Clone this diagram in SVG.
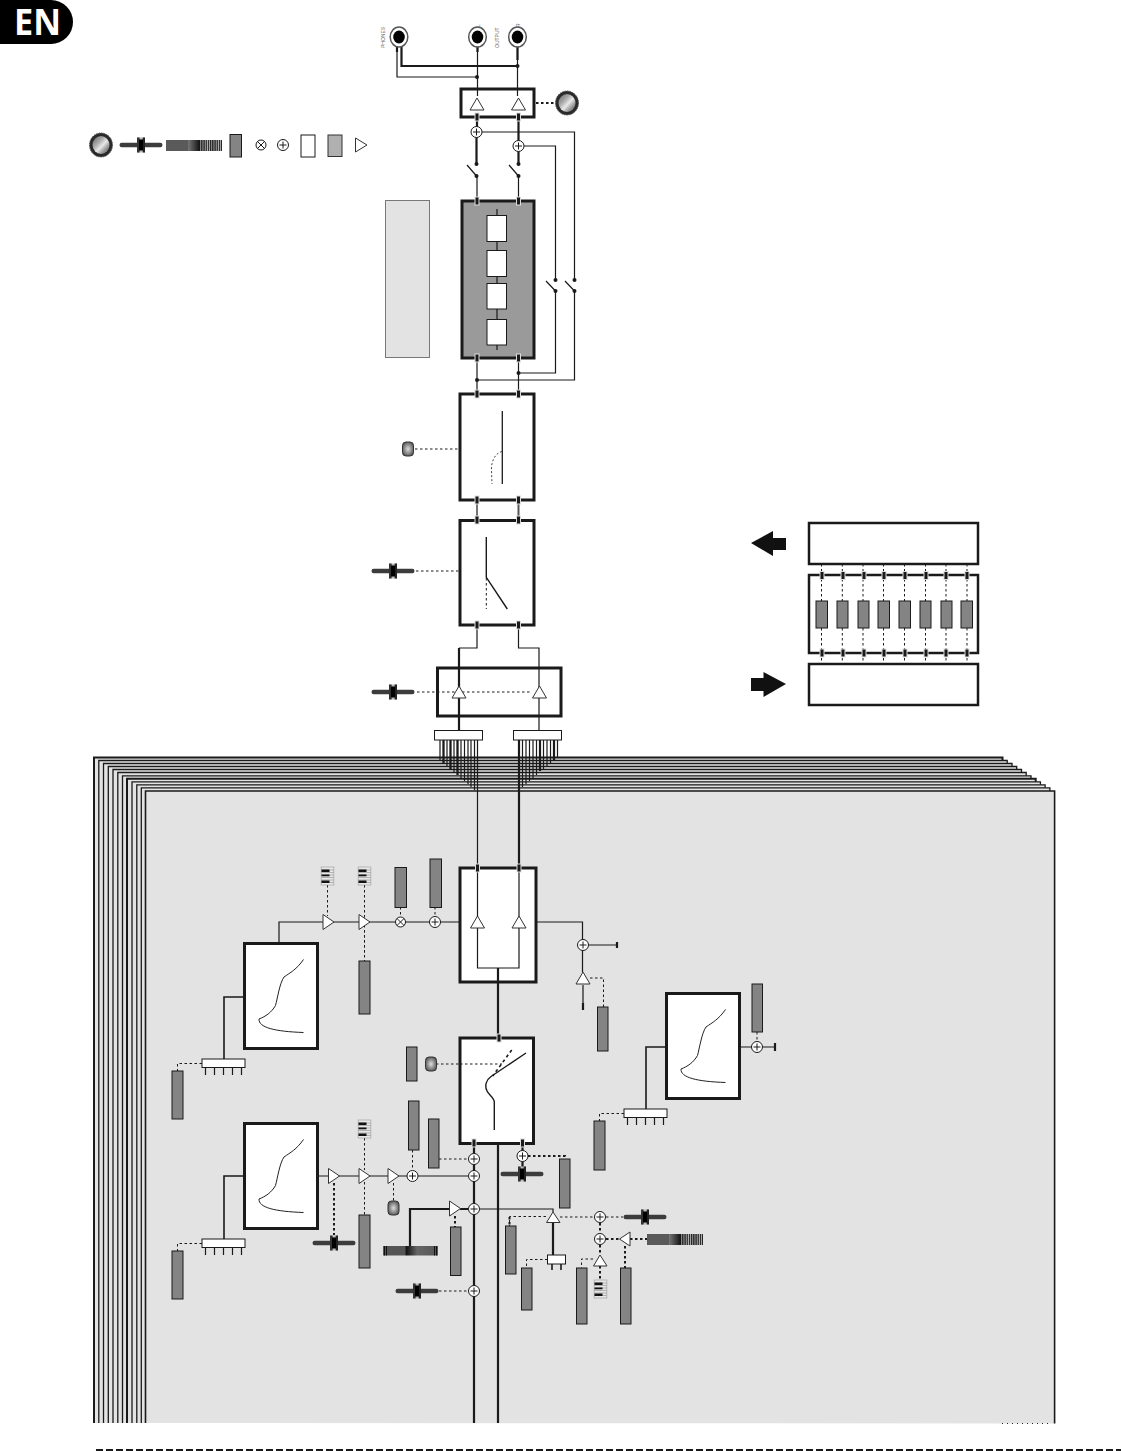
<svg xmlns="http://www.w3.org/2000/svg" width="1121" height="1451" viewBox="0 0 1121 1451">
<style>
.bx{fill:#fff;stroke:#1a1a1a;stroke-width:3}
.bt{fill:#fff;stroke:#1a1a1a;stroke-width:2.5}
.g{fill:#848484;stroke:#1a1a1a;stroke-width:1}
.w{fill:none;stroke:#1a1a1a;stroke-width:1.2}
.t{fill:none;stroke:#1a1a1a;stroke-width:2.2}
.d{fill:none;stroke:#1a1a1a;stroke-width:1;stroke-dasharray:2.5 2.5}
.dd{fill:none;stroke:#1a1a1a;stroke-width:2;stroke-dasharray:2.5 2.5}
.tri{fill:#fff;stroke:#333;stroke-width:1}
.p{fill:#e3e3e3;stroke:#1a1a1a;stroke-width:1.3}
.lb{font-family:"Liberation Sans",Arial,sans-serif;font-size:5px;fill:#666}
.dot{fill:#1a1a1a}
</style>
<defs>
<linearGradient id="kg" x1="0" y1="0" x2="1" y2="1"><stop offset="0" stop-color="#666"/><stop offset="0.35" stop-color="#aaa"/><stop offset="0.55" stop-color="#e8e8e8"/><stop offset="0.75" stop-color="#999"/><stop offset="1" stop-color="#555"/></linearGradient>
<radialGradient id="lg" cx="0.5" cy="0.5" r="0.55"><stop offset="0" stop-color="#ddd"/><stop offset="1" stop-color="#555"/></radialGradient>
<linearGradient id="sg" x1="0" x2="1" y1="0" y2="0"><stop offset="0" stop-color="#555"/><stop offset="0.4" stop-color="#555"/><stop offset="0.42" stop-color="#111"/><stop offset="0.62" stop-color="#666"/><stop offset="1" stop-color="#555"/></linearGradient>
<linearGradient id="sh" x1="0" x2="1" y1="0" y2="0"><stop offset="0" stop-color="#777"/><stop offset="1" stop-color="#111"/></linearGradient>
<pattern id="hatch" width="2.2" height="10" patternUnits="userSpaceOnUse"><rect width="2.2" height="10" fill="#bbb"/><rect width="1.3" height="10" fill="#222"/></pattern>
<g id="sum"><circle r="5.5" fill="#fff" stroke="#1a1a1a" stroke-width="1"/><path d="M-3.5 0H3.5M0-3.5V3.5" stroke="#1a1a1a" stroke-width="1" fill="none"/></g>
<g id="mul"><circle r="5" fill="#fff" stroke="#1a1a1a" stroke-width="1"/><path d="M-3.500-3.500L3.500 3.500M3.500-3.500L-3.500 3.500" stroke="#1a1a1a" stroke-width="1" fill="none"/></g>
<g id="fader"><rect x="-21.500" y="-2.200" width="43" height="4.400" rx="2.200" fill="#3c3c3c"/><rect x="-4" y="-7.500" width="8" height="15" fill="#bbb"/><rect x="-4" y="-7.500" width="2.600" height="15" fill="#333"/><rect x="1.700" y="-7.500" width="2.300" height="15" fill="#222"/><rect x="-2" y="-5.500" width="4" height="11" fill="#000"/></g>
<g id="knob"><ellipse rx="11.500" ry="12" fill="#2a2a2a" stroke="#555" stroke-width="1" stroke-dasharray="1.500 1"/><ellipse rx="8.500" ry="9" fill="url(#kg)"/></g>
<g id="led"><rect x="-5.500" y="-7" width="11" height="14" rx="3.500" fill="url(#lg)" stroke="#333" stroke-width="1"/></g>
<g id="piano"><rect x="-6.300" y="-9" width="12.600" height="18" fill="#e8e8e8" stroke="#aaa" stroke-width="0.800"/><path d="M-6-6H6M-6-3.500H6M-6-1H6M-6 1.500H6M-6 4H6M-6 6.500H6" stroke="#777" stroke-width="0.500"/><rect x="-6" y="-6.500" width="8" height="2.500" fill="#111"/><rect x="-6" y="-1.500" width="8" height="1.800" fill="#111"/><rect x="-6" y="4.500" width="8" height="2.500" fill="#111"/></g>
<g id="tab"><rect x="-2.500" y="-4.500" width="5" height="9" fill="#ddd"/><rect x="-1.500" y="-3.500" width="3" height="7" fill="#1a1a1a"/></g>
<g id="jack"><ellipse rx="8.800" ry="10" fill="#fff" stroke="#555" stroke-width="1.500"/><ellipse cx="0" cy="0" rx="5.800" ry="6.500" fill="#000"/></g>
<g id="triU"><path class="tri" d="M-7 6L0-6L7 6Z"/></g>
<g id="triR"><path class="tri" d="M-5.500-7.500L5.500 0L-5.500 7.500Z"/></g>
<g id="comp"><rect class="bx" x="0" y="0" width="73" height="105"/><path d="M59 16C52 26 46 29 39.500 33.500C35 40 33 55 31 62C27 69 21 73 14.500 75.500C14 84 30 88 59 89" fill="none" stroke="#222" stroke-width="1"/></g>
<g id="bar5"><path class="w" d="M3.500 7V16M12.500 7V16M21.500 7V16M30.500 7V16M39.500 7V16"/><rect x="0" y="0" width="43" height="8.500" fill="#fff" stroke="#1a1a1a" stroke-width="1"/></g>
<g id="slider"><rect x="0" y="0" width="22" height="11" fill="#5a5a5a"/><rect x="22" y="0" width="12" height="11" fill="url(#sh)"/><rect x="34" y="0" width="22" height="11" fill="url(#hatch)"/></g>
</defs>

<g id="page-tab"><path d="M0 0H51A22 22 0 0 1 73 22A22 22 0 0 1 51 44H0Z" fill="#000"/><text x="14" y="35" font-family="Open Sans,Liberation Sans,sans-serif" font-weight="700" font-size="35" fill="#fff" textLength="47" lengthAdjust="spacingAndGlyphs">EN</text></g>

<g id="channel-stack">
<path class="p" style="stroke-width:2" d="M94 1423V757.500H1002.500V1423"/>
<path class="p" d="M98.800 1423V760.500H1007.200V1423"/>
<path class="p" d="M103.500 1423V763.500H1012V1423"/>
<path class="p" d="M108.300 1423V766.500H1016.700V1423"/>
<path class="p" d="M113 1423V769.500H1021.500V1423"/>
<path class="p" d="M117.800 1423V772.500H1026.200V1423"/>
<path class="p" d="M122.500 1423V775.800H1031V1423"/>
<path class="p" style="stroke-width:2" d="M127 1423V778.800H1035.700V1423"/>
<path class="p" d="M132 1423V781.800H1040.400V1423"/>
<path class="p" d="M136.800 1423V784.800H1045.100V1423"/>
<path class="p" d="M141.300 1423V787.800H1049.900V1423"/>
<path class="p" style="stroke-width:1.600" d="M145.500 1423V791H1054.600V1423.500"/>
<path d="M1002 1423.500H1052" stroke="#222" stroke-width="1" stroke-dasharray="1 4" fill="none"/>
</g>

<g id="connectors">
<path class="w" d="M397 46V77H477M477.500 46V96M517.500 46V96"/>
<path class="t" d="M401.500 46V66H517.500M517.500 46V60M477.500 46V52M397 46V52M477 113V132M518.500 113V146"/>
<path class="w" d="M477 176V201M518.500 176V201M477 132H574.500V280M518.500 146H555.500V280M555.500 291V373H518.500M574.500 291V380H477"/>
<path class="t" d="M476.500 132V164M518.500 146V164"/>
<path class="w" d="M467 165L476.500 176M509 165L518.500 176M546 281L555.500 291M565 281L574.500 291"/>
<path class="w" d="M477 358V394M518.500 358V394M477 500V520"/>
<path d="M518.500 500V520" fill="none" stroke="#555" stroke-width="2"/>
<path class="dd" d="M536 103H555"/>
<path class="d" d="M415 449H459M416 571H459M417 692H530"/>
<path class="w" d="M477 625V648H459M518.500 625V648H539V730"/>
<path class="t" d="M459 648V730"/>
<path class="w" d="M440 740V760M443.500 740V763M447 740V766M450.500 740V769M454 740V772M457.500 740V775M461 740V778M464.500 740V781M468 740V784M471 740V787M474.500 740V790M477.500 740V868"/>
<path class="t" d="M443.500 740V763M450.500 740V769M457.500 740V775M519 740V868M540 740V771M554 740V760"/>
<path class="w" d="M522.500 740V787M526 740V784M529.500 740V781M533 740V778M536.500 740V775M543.500 740V769M547 740V766M550.500 740V763M557.500 740V757"/>
<path class="t" d="M498 982V1038"/>
<path class="w" d="M279 943V922H460M536 922H582.500V972M583 945H616M583 985V1004M740 1047H775"/>
<path class="t" d="M617 942V948M583 1003V1010M775 1043V1051"/>
<path class="d" d="M327.500 885V916M364.500 885V955M364.500 930V961M400.500 907V916M435 907V916M590 978H603.500V1007"/>
<path class="t" d="M244 997H224V1059M666 1047H646V1109M244 1176H224V1239" style="stroke-width:1.600"/>
<path class="d" d="M202 1063.500H177.500V1071M624 1113.500H599.500V1121M202 1243.500H177.500V1251M757 1032V1041"/>
<path class="d" d="M431 1064H459"/>
<path class="t" d="M474 1144V1423M498 1144V1423"/>
<path class="w" d="M317 1176H468M480 1209H553V1212"/>
<path class="t" d="M522.500 1144V1168M410 1246V1209H450M460 1209H468M553 1223V1255"/>
<path class="d" d="M439 1159H468M412.500 1150V1170M364.500 1138V1170M364.500 1182V1215M393.500 1183V1201M439 1291H468M546 1216.500H509.500V1226M560 1217H594M547.500 1259.500H526.500V1268M593 1259H581.500V1268M606 1217H623"/>
<path class="dd" d="M528 1156H565V1159M334 1183V1235M455 1216V1227M600 1223V1233M600 1245V1255M606 1239H619M600 1266V1280M630 1239H647M625 1246V1268M509.500 1217V1226"/>
<path class="t" d="M552 1264V1270M561 1264V1270" style="stroke-width:1.600"/>
<path class="d" d="M821.500 564V601M842.300 564V601M863 564V601M883.500 564V601M904.500 564V601M925.500 564V601M946 564V601M967 564V601M821.500 628V664M842.300 628V664M863 628V664M883.500 628V664M904.500 628V664M925.500 628V664M946 628V664M967 628V664"/>
<path d="M96 1450H1121" fill="none" stroke="#1a1a1a" stroke-width="2" stroke-dasharray="7 3"/>
</g>

<g id="jacks" opacity="0.99">
<use href="#jack" x="399" y="37"/><use href="#jack" x="477.500" y="37"/><use href="#jack" x="517.500" y="37"/>
<text class="lb" transform="translate(385,48) rotate(-90)">PHONES</text>
<text class="lb" transform="translate(499,48) rotate(-90)">OUTPUT</text>
<text class="lb" transform="translate(480,27) rotate(-90)">L</text>
<text class="lb" transform="translate(520,27) rotate(-90)">R</text>
</g>

<g id="legend">
<use href="#knob" x="101" y="145"/><use href="#fader" x="141" y="145"/><use href="#slider" x="166" y="140"/>
<rect class="g" x="230" y="134.500" width="11.500" height="22.500"/>
<use href="#mul" x="261" y="145"/><use href="#sum" x="283" y="145"/>
<rect x="301" y="135" width="14" height="22" fill="#fff" stroke="#1a1a1a"/>
<rect x="328" y="135" width="14" height="21.500" fill="#b0b0b0" stroke="#333"/>
<path class="tri" d="M355.500 138L367 145L355.500 152Z"/>
</g>

<g id="master-amp"><rect class="bx" x="461" y="89" width="73" height="28" style="fill:none"/><use href="#triU" x="477" y="104"/><use href="#triU" x="518.500" y="104"/><use href="#tab" x="477" y="117"/><use href="#tab" x="518.500" y="117"/><use href="#knob" x="567" y="103"/></g>
<g id="sums-top"><use href="#sum" x="476.500" y="132"/><use href="#sum" x="518.500" y="146"/>
<circle class="dot" cx="477" cy="77" r="2"/><circle class="dot" cx="517.500" cy="66" r="2"/>
<circle class="dot" cx="476.500" cy="164" r="2"/><circle class="dot" cx="476.500" cy="176" r="2"/><circle class="dot" cx="518.500" cy="164" r="2"/><circle class="dot" cx="518.500" cy="176" r="2"/>
<circle class="dot" cx="555.500" cy="280" r="2"/><circle class="dot" cx="555.500" cy="291" r="2"/><circle class="dot" cx="574.500" cy="280" r="2"/><circle class="dot" cx="574.500" cy="291" r="2"/>
<circle class="dot" cx="518.500" cy="373" r="2"/><circle class="dot" cx="477" cy="380" r="2"/></g>

<g id="insert-legend"><rect x="385.500" y="200.500" width="44" height="157" fill="#e3e3e3" stroke="#777" stroke-width="1"/></g>
<g id="main-insert"><rect class="bx" x="462" y="201" width="72" height="157" style="fill:#9a9a9a"/>
<path class="w" d="M497 209V350"/>
<rect x="487" y="215.500" width="19.500" height="26" fill="#fff" stroke="#1a1a1a"/><rect x="487" y="250.500" width="19.500" height="26" fill="#fff" stroke="#1a1a1a"/><rect x="487" y="283.500" width="19.500" height="25.500" fill="#fff" stroke="#1a1a1a"/><rect x="487" y="319.500" width="19.500" height="25.500" fill="#fff" stroke="#1a1a1a"/>
<use href="#tab" x="477" y="201"/><use href="#tab" x="518.500" y="201"/><use href="#tab" x="477" y="358"/><use href="#tab" x="518.500" y="358"/></g>

<g id="limiter"><rect class="bx" x="460" y="394" width="74" height="106"/>
<path d="M502.300 411V484" stroke="#1a1a1a" stroke-width="1.300" fill="none"/>
<path d="M502 451.500C495 453 491 462 491.500 470L492 484" fill="none" stroke="#444" stroke-width="1" stroke-dasharray="2 2"/>
<use href="#tab" x="477" y="394"/><use href="#tab" x="518.500" y="394"/><use href="#tab" x="477" y="500"/><use href="#tab" x="518.500" y="500"/>
<use href="#led" x="408" y="449"/></g>

<g id="hpf"><rect class="bx" x="460" y="520.500" width="74" height="104.500"/>
<path d="M486.300 537V577.300L507.300 609" fill="none" stroke="#1a1a1a" stroke-width="1.400"/><path class="d" d="M486.300 578V609"/>
<use href="#tab" x="477" y="520"/><use href="#tab" x="518.500" y="520"/><use href="#tab" x="477" y="625"/><use href="#tab" x="518.500" y="625"/>
<use href="#fader" x="393" y="571"/></g>

<g id="main-fader"><rect class="bx" x="437.500" y="668" width="123.500" height="48" style="fill:none"/><use href="#triU" x="459" y="692"/><use href="#triU" x="539.500" y="692"/><use href="#fader" x="393" y="692"/></g>

<g id="bus-bars"><rect x="434.500" y="730.500" width="48" height="9.500" fill="#fff" stroke="#1a1a1a"/><rect x="513.500" y="730.500" width="48" height="9.500" fill="#fff" stroke="#1a1a1a"/></g>

<g id="side-block">
<rect class="bt" x="809" y="523" width="169" height="41"/><rect class="bt" x="809" y="575" width="169" height="78" style="fill:none"/><rect class="bt" x="809" y="664" width="169" height="41"/>
<path d="M751 543L773 531V538H786V550H773V556Z" fill="#111"/><path d="M751 678H763.500V672L786 684L763.500 697V691H751Z" fill="#111"/>
<rect class="g" x="816" y="601" width="11.500" height="27"/><rect class="g" x="837" y="601" width="11" height="27"/><rect class="g" x="858" y="601" width="11" height="27"/><rect class="g" x="878" y="601" width="11.500" height="27"/><rect class="g" x="899" y="601" width="11.500" height="27"/><rect class="g" x="920" y="601" width="11" height="27"/><rect class="g" x="941" y="601" width="11" height="27"/><rect class="g" x="961" y="601" width="11.500" height="27"/>
<use href="#tab" x="822" y="575.500"/><use href="#tab" x="843" y="575.500"/><use href="#tab" x="864" y="575.500"/><use href="#tab" x="884" y="575.500"/><use href="#tab" x="905" y="575.500"/><use href="#tab" x="926" y="575.500"/><use href="#tab" x="946" y="575.500"/><use href="#tab" x="967" y="575.500"/>
<use href="#tab" x="822" y="653"/><use href="#tab" x="843" y="653"/><use href="#tab" x="864" y="653"/><use href="#tab" x="884" y="653"/><use href="#tab" x="905" y="653"/><use href="#tab" x="926" y="653"/><use href="#tab" x="946" y="653"/><use href="#tab" x="967" y="653"/>
</g>

<g id="ch-mix"><rect class="bx" x="460" y="868" width="76" height="114"/>
<path class="w" d="M477.500 868V968H519V868"/><path class="t" d="M498 968V982"/>
<use href="#tab" x="477.500" y="868"/><use href="#tab" x="519" y="868"/><use href="#triU" x="477.500" y="922"/><use href="#triU" x="519" y="922"/></g>
<g id="eq-a"><use href="#comp" x="244.500" y="943.500"/><use href="#bar5" x="202" y="1059"/><rect class="g" x="172" y="1071" width="11" height="48"/></g>
<g id="eq-b"><use href="#comp" x="244.500" y="1123.500"/><use href="#bar5" x="202" y="1239"/><rect class="g" x="172" y="1251" width="11" height="48"/></g>
<g id="eq-c"><use href="#comp" x="666.500" y="993.500"/><use href="#bar5" x="624" y="1109"/><rect class="g" x="594" y="1121" width="11" height="49"/><rect class="g" x="752" y="984" width="10.500" height="48"/><use href="#sum" x="757" y="1047"/></g>

<g id="ch-top-path">
<use href="#triR" x="328.500" y="922"/><use href="#triR" x="364.500" y="922"/><use href="#mul" x="400.500" y="922"/><use href="#sum" x="435" y="922"/>
<use href="#piano" x="327.500" y="876"/><use href="#piano" x="364.500" y="876"/>
<rect class="g" x="395" y="867.500" width="11.500" height="40"/><rect class="g" x="430" y="859" width="11.500" height="48.500"/><rect class="g" x="359" y="961" width="11" height="53"/>
<use href="#sum" x="583" y="945"/><use href="#triU" x="583" y="978"/><rect class="g" x="597.500" y="1007" width="10.500" height="44"/>
</g>

<g id="ch-gate"><rect class="bx" x="460" y="1038" width="73.500" height="105.500"/>
<path d="M526 1053L491 1076.500C486 1080 484.500 1086 487 1091C489 1095 494.300 1098 494.300 1102V1130" fill="none" stroke="#1a1a1a" stroke-width="1.400"/>
<path d="M511.700 1050L492.700 1076" fill="none" stroke="#1a1a1a" stroke-width="1.600" stroke-dasharray="3 3"/>
<path class="d" d="M460 1064H502"/>
<use href="#tab" x="499" y="1038"/><use href="#tab" x="474" y="1143"/><use href="#tab" x="522.500" y="1143"/>
<rect class="g" x="406.500" y="1047" width="10.500" height="34"/><use href="#led" x="431" y="1064"/></g>

<g id="ch-lower">
<use href="#triR" x="334" y="1176"/><use href="#triR" x="364.500" y="1176"/><use href="#triR" x="393.500" y="1176"/>
<use href="#sum" x="412.500" y="1176"/><use href="#sum" x="474" y="1159"/><use href="#sum" x="474" y="1176"/><use href="#sum" x="474" y="1209"/><use href="#sum" x="474" y="1291"/><use href="#sum" x="522.500" y="1156"/>
<use href="#piano" x="364.500" y="1129"/><use href="#led" x="393.500" y="1208"/>
<use href="#fader" x="334" y="1243"/><use href="#fader" x="522" y="1174"/><use href="#fader" x="417" y="1291"/><use href="#fader" x="645" y="1217"/>
<rect class="g" x="408.500" y="1101" width="10.500" height="49"/><rect class="g" x="428.500" y="1119" width="10.500" height="49"/><rect class="g" x="359" y="1215" width="11" height="53"/><rect class="g" x="450.500" y="1227" width="10.500" height="48.500"/><rect class="g" x="559.500" y="1159" width="10.500" height="49"/><rect class="g" x="505.500" y="1226" width="10.500" height="48"/><rect class="g" x="521.500" y="1268" width="10.500" height="42"/><rect class="g" x="576.500" y="1268" width="10.500" height="56"/><rect class="g" x="620.500" y="1268" width="10.500" height="56"/>
<rect x="383" y="1246" width="55" height="9.500" fill="url(#sg)"/><path d="M384.500 1246V1255.500M386.500 1246V1255.500M434.500 1246V1255.500M436.500 1246V1255.500" stroke="#111"/>
<use href="#triR" x="455" y="1208.500"/>
<path class="tri" d="M546.500 1222.500L553 1212L560 1222.500Z"/>
<rect x="547.500" y="1255" width="18" height="9" fill="#fff" stroke="#1a1a1a"/>
<use href="#sum" x="600" y="1217"/><use href="#sum" x="600" y="1239"/>
<path class="tri" d="M593.500 1266L600 1255L607 1266Z"/><use href="#piano" x="600.500" y="1289"/>
<path class="tri" d="M630 1232L619.500 1239L630 1246Z"/>
<use href="#slider" x="647" y="1234"/>
</g>
</svg>
